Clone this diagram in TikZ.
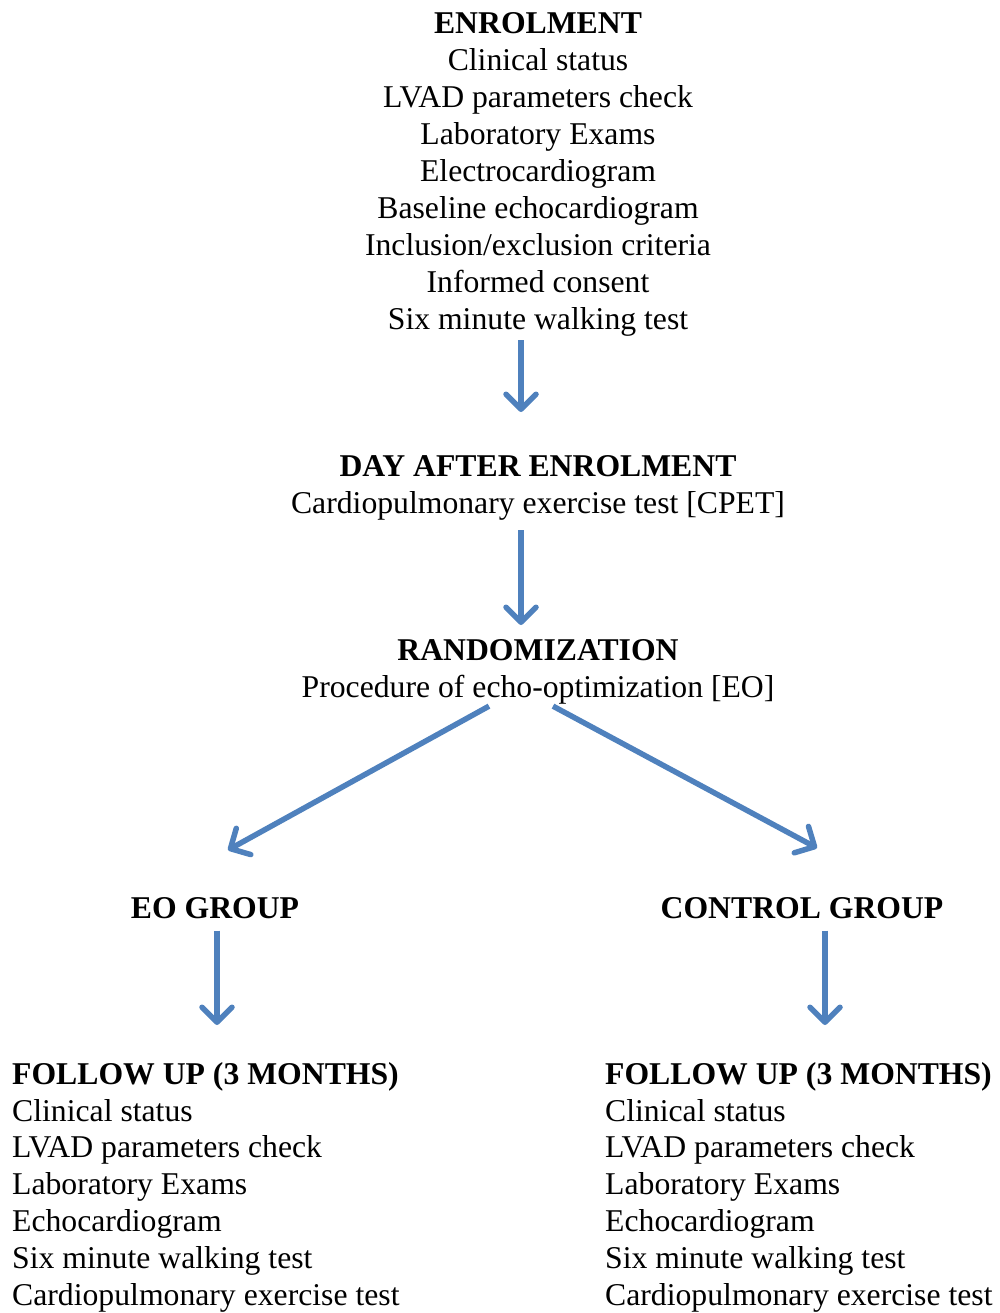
\documentclass[tikz,border=0pt]{standalone}
\usepackage{fontspec}
\setmainfont{Liberation Serif}
\usetikzlibrary{arrows.meta,calc}
\definecolor{arrowblue}{RGB}{79,129,189}
\begin{document}
\begin{tikzpicture}[x=1pt,y=-1pt,
  txt/.style={inner sep=0pt, font=\fontsize{31.7}{37}\selectfont, align=center},
  ltxt/.style={inner sep=0pt, font=\fontsize{31.7}{36.8}\selectfont, align=left},
  flow/.style={draw=arrowblue, line width=5.5pt,
    -{Straight Barb[length=15pt,width=30pt,line cap=round,line join=round]}}]
\useasboundingbox (0,0) rectangle (1000,1313);

\node[txt, anchor=north] (enrol) at (538,12) {\textbf{ENROLMENT}\\Clinical status\\LVAD parameters check\\Laboratory Exams\\Electrocardiogram\\Baseline echocardiogram\\Inclusion/exclusion criteria\\Informed consent\\Six minute walking test};

\node[txt, anchor=north] (day) at (538,455) {\textbf{DAY AFTER ENROLMENT}\\Cardiopulmonary exercise test [CPET]};

\node[txt, anchor=north] (random) at (538,639) {\textbf{RANDOMIZATION}\\Procedure of echo-optimization [EO]};

\node[txt, anchor=north] (eo) at (215,897) {\textbf{EO GROUP}};
\node[txt, anchor=north] (ctrl) at (802,897) {\textbf{CONTROL GROUP}};

\node[ltxt, anchor=north west] (fu1) at (12,1062) {\textbf{FOLLOW UP (3 MONTHS)}\\Clinical status\\LVAD parameters check\\Laboratory Exams\\Echocardiogram\\Six minute walking test\\Cardiopulmonary exercise test};
\node[ltxt, anchor=north west] (fu2) at (605,1062) {\textbf{FOLLOW UP (3 MONTHS)}\\Clinical status\\LVAD parameters check\\Laboratory Exams\\Echocardiogram\\Six minute walking test\\Cardiopulmonary exercise test};

\draw[flow, shorten >=43pt] ([xshift=-17pt,yshift=-4pt]enrol.south) -- ([xshift=-17pt]enrol.south |- day.north);
\draw[flow, shorten >=14pt] ([xshift=-17pt,yshift=-10pt]day.south) -- ([xshift=-17pt]day.south |- random.north);
\draw[flow] ($(random.south)+(-49,2)$) -- ($(eo.north)+(13,-47)$);
\draw[flow] ($(random.south)+(15,2)$) -- ($(ctrl.north)+(15,-49)$);
\draw[flow, shorten >=37pt] ([xshift=2pt,yshift=-12pt]eo.south) -- ([xshift=2pt]eo.south |- fu1.north);
\draw[flow, shorten >=37pt] ([xshift=23pt,yshift=-12pt]ctrl.south) -- ([xshift=23pt]ctrl.south |- fu2.north);
\end{tikzpicture}
\end{document}
